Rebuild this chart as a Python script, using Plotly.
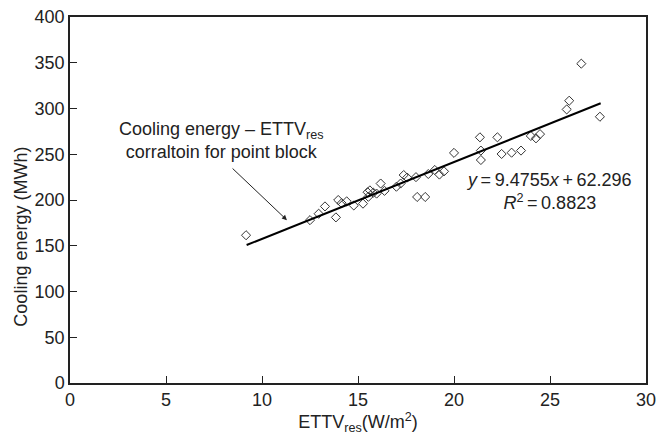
import plotly.graph_objects as go

ettv = [9.17, 12.5, 12.95, 13.28, 13.85, 13.97, 14.15, 14.41, 14.78, 15.26, 15.54, 15.5,
        15.62, 15.8, 15.97, 16.18, 16.38, 17.0, 17.22, 17.38, 17.56, 18.02, 18.08, 18.5,
        18.66, 19.0, 19.24, 19.48, 20.0, 21.35, 21.4, 21.4, 22.26, 22.48, 23.0, 23.49,
        24.0, 24.27, 24.48, 25.87, 26.0, 26.63, 27.6]
energy = [161.5, 178, 185, 193, 181, 200, 196.5, 198.5, 194, 196, 203.5, 208.5,
          210.5, 208, 207, 218, 210, 214.5, 218, 227.3, 224.5, 225, 203.3, 203.3,
          228.4, 232.8, 227.8, 231.3, 251.5, 268.5, 254, 243.7, 268.5, 250.3, 251.7, 254,
          270, 267.4, 272, 299, 308.5, 349, 291]

fit_x = [9.2, 27.64]
fit_y = [150.8, 305.7]

x_ticks = [0, 5, 10, 15, 20, 25, 30]
y_ticks = [0, 50, 100, 150, 200, 250, 300, 350, 400]

FONT = "Liberation Sans, Arial, Helvetica, sans-serif"
TXT = "#222222"
TS = "\u2009"

fig = go.Figure()
fig.add_trace(go.Scatter(x=ettv, y=energy, mode="markers",
                         marker=dict(symbol="diamond-open", size=7,
                                     color="#333333", line=dict(width=1)),
                         showlegend=False, cliponaxis=False))
fig.add_trace(go.Scatter(x=fit_x, y=fit_y, mode="lines",
                         line=dict(color="#000000", width=2), showlegend=False))

fig.add_annotation(x=11.3, y=178, ax=8.39, ay=236, xref="x", yref="y",
                   axref="x", ayref="y", showarrow=True, arrowhead=2,
                   arrowsize=1, arrowwidth=1, arrowcolor="#222222", text="")
fig.add_annotation(x=7.87, y=265, xref="x", yref="y", showarrow=False,
                   xanchor="center", yanchor="middle",
                   text="Cooling energy \u2013 ETTV<sub>res</sub><br>corraltoin for point block",
                   font=dict(family=FONT, size=18, color=TXT), align="center")
fig.add_annotation(x=24.95, y=209, xref="x", yref="y", showarrow=False,
                   xanchor="center", yanchor="middle",
                   text=f"<i>y</i>{TS}={TS}9.4755<i>x</i>{TS}+{TS}62.296<br><i>R</i><sup>2</sup>{TS}={TS}0.8823",
                   font=dict(family=FONT, size=18, color=TXT), align="center")
fig.add_annotation(x=-0.085, y=0.40, xref="paper", yref="paper", showarrow=False,
                   xanchor="center", yanchor="middle",
                   text="Cooling energy (MWh)", textangle=-90,
                   font=dict(family=FONT, size=18, color=TXT))

fig.update_layout(
    width=658, height=435,
    margin=dict(l=70, r=12, t=17, b=52),
    plot_bgcolor="white", paper_bgcolor="white",
    font=dict(family=FONT, size=18, color=TXT),
    xaxis=dict(range=[0, 30], tickvals=x_ticks, ticks="inside", ticklen=7,
               showline=True, linecolor="#222222", linewidth=1.5, mirror=True,
               showgrid=False, zeroline=False, tickcolor="#222222", automargin=False,
               tickfont=dict(family=FONT, size=18, color=TXT),
               title=dict(text="ETTV<sub>res</sub>(W/m<sup>2</sup>)", standoff=2,
                          font=dict(family=FONT, size=18, color=TXT))),
    yaxis=dict(range=[0, 400], tickvals=y_ticks, ticks="inside", ticklen=7,
               showline=True, linecolor="#222222", linewidth=1.5, mirror=True,
               showgrid=False, zeroline=False, tickcolor="#222222", automargin=False,
               tickfont=dict(family=FONT, size=18, color=TXT)),
)

fig.write_html("out.html", config={"displayModeBar": False},
               post_script="document.body.style.margin='0';document.body.style.overflow='hidden';")
